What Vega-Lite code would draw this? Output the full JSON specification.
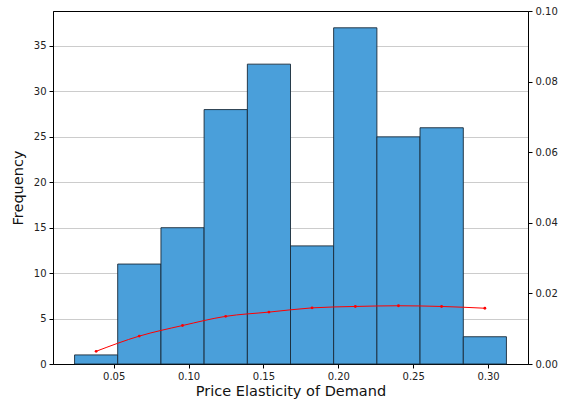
{
  "$schema": "https://vega.github.io/schema/vega-lite/v6.json",
  "width": 475,
  "height": 353,
  "autosize": {"type": "none"},
  "padding": {"left": 53, "top": 11, "right": 41, "bottom": 37},
  "background": "white",
  "config": {
    "font": "DejaVu Sans",
    "view": {"stroke": "#000000", "strokeWidth": 1},
    "axis": {
      "labelFont": "DejaVu Sans",
      "titleFont": "DejaVu Sans",
      "labelFontSize": 10,
      "titleFontSize": 14.5,
      "titleFontWeight": "normal",
      "labelColor": "#222222",
      "titleColor": "#111111",
      "tickColor": "#000000",
      "domainColor": "#000000",
      "tickSize": 4,
      "labelPadding": 3
    }
  },
  "datasets": {
    "bins": [
      {"bin_start": 0.0239, "bin_end": 0.0527, "count": 1},
      {"bin_start": 0.0527, "bin_end": 0.0816, "count": 11},
      {"bin_start": 0.0816, "bin_end": 0.1104, "count": 15},
      {"bin_start": 0.1104, "bin_end": 0.1393, "count": 28},
      {"bin_start": 0.1393, "bin_end": 0.1681, "count": 33},
      {"bin_start": 0.1681, "bin_end": 0.1969, "count": 13},
      {"bin_start": 0.1969, "bin_end": 0.2258, "count": 37},
      {"bin_start": 0.2258, "bin_end": 0.2546, "count": 25},
      {"bin_start": 0.2546, "bin_end": 0.2835, "count": 26},
      {"bin_start": 0.2835, "bin_end": 0.3123, "count": 3}
    ],
    "curve": [
      {"x": 0.0383, "value": 0.0036},
      {"x": 0.0671, "value": 0.0079},
      {"x": 0.0960, "value": 0.0109},
      {"x": 0.1248, "value": 0.0135},
      {"x": 0.1537, "value": 0.0147},
      {"x": 0.1825, "value": 0.0159},
      {"x": 0.2114, "value": 0.0163},
      {"x": 0.2402, "value": 0.0165},
      {"x": 0.2690, "value": 0.0163},
      {"x": 0.2979, "value": 0.0158}
    ]
  },
  "layer": [
    {
      "data": {"name": "bins"},
      "mark": {"type": "rect", "fill": "#4a9fda", "stroke": "#1a2a38", "strokeWidth": 1, "strokeOpacity": 0.9},
      "encoding": {
        "x": {
          "field": "bin_start", "type": "quantitative",
          "scale": {"domain": [0.0095, 0.3267], "nice": false, "zero": false},
          "axis": {"title": "Price Elasticity of Demand", "values": [0.05, 0.1, 0.15, 0.2, 0.25, 0.3], "format": ".2f", "grid": false, "titlePadding": 3}
        },
        "x2": {"field": "bin_end"},
        "y": {
          "field": "count", "type": "quantitative",
          "scale": {"domain": [0, 38.85], "nice": false},
          "axis": {"title": "Frequency", "values": [0, 5, 10, 15, 20, 25, 30, 35], "grid": true, "gridColor": "#cccccc", "gridWidth": 1, "titlePadding": 8}
        },
        "y2": {"datum": 0}
      }
    },
    {
      "data": {"name": "curve"},
      "mark": {"type": "line", "color": "#ff0000", "strokeWidth": 1, "interpolate": "monotone", "point": {"filled": true, "size": 8, "color": "#ff0000"}},
      "encoding": {
        "x": {"field": "x", "type": "quantitative", "scale": {"domain": [0.0095, 0.3267], "nice": false, "zero": false}},
        "y": {
          "field": "value", "type": "quantitative",
          "scale": {"domain": [0, 0.1], "nice": false},
          "axis": {"orient": "right", "title": null, "values": [0, 0.02, 0.04, 0.06, 0.08, 0.1], "format": ".2f", "grid": false}
        }
      }
    }
  ],
  "resolve": {"scale": {"y": "independent"}}
}
